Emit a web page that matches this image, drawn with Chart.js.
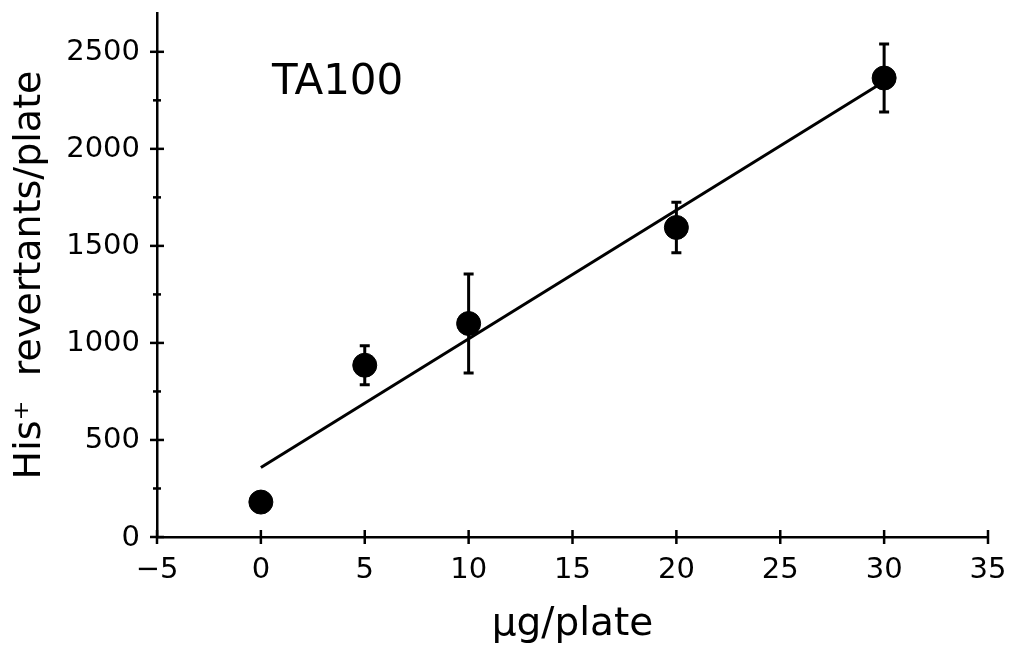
<!DOCTYPE html>
<html>
<head>
<meta charset="utf-8">
<script src="https://cdn.jsdelivr.net/npm/chart.js@4.4.0/dist/chart.umd.min.js"></script>
<style>
  html, body { margin: 0; padding: 0; background: #fff; }
</style>
</head>
<body>
<canvas id="myChart" width="1014" height="652"></canvas>
<script>
const doses = [0, 5, 10, 20, 30];
const revertants = [180, 885, 1100, 1595, 2365];
const errors = [0, 100, 255, 130, 175];
const fitX = [0, 30];
const fitY = [358, 2347];
const xTicks = [-5, 0, 5, 10, 15, 20, 25, 30, 35];
const yTicks = [0, 500, 1000, 1500, 2000, 2500];
const yMinorTicks = [250, 750, 1250, 1750, 2250];

const tickFont = '29px "DejaVu Sans"';

// error bars drawn under the dots
const errorBars = {
  id: 'errorBars',
  beforeDatasetsDraw(chart) {
    const {ctx, scales: {x, y}} = chart;
    ctx.save();
    ctx.strokeStyle = '#000';
    ctx.lineWidth = 3;
    doses.forEach((d, i) => {
      if (!errors[i]) return;
      const px = x.getPixelForValue(d);
      const top = y.getPixelForValue(revertants[i] + errors[i]);
      const bot = y.getPixelForValue(revertants[i] - errors[i]);
      ctx.beginPath();
      ctx.moveTo(px, top); ctx.lineTo(px, bot);
      ctx.moveTo(px - 5, top); ctx.lineTo(px + 5, top);
      ctx.moveTo(px - 5, bot); ctx.lineTo(px + 5, bot);
      ctx.stroke();
    });
    ctx.restore();
  }
};

// crossing tick marks, tick labels and the panel label
const axisTicks = {
  id: 'axisTicks',
  afterDraw(chart) {
    const {ctx, scales: {x, y}} = chart;
    const yAxisX = x.getPixelForValue(-5);
    const xAxisY = y.getPixelForValue(0);
    ctx.save();
    ctx.strokeStyle = '#000';
    ctx.fillStyle = '#000';
    ctx.lineWidth = 2.5;
    ctx.font = tickFont;

    ctx.textAlign = 'right';
    ctx.textBaseline = 'middle';
    yTicks.forEach(v => {
      const py = y.getPixelForValue(v);
      ctx.beginPath(); ctx.moveTo(yAxisX - 7, py); ctx.lineTo(yAxisX + 7, py); ctx.stroke();
      ctx.fillText(String(v), yAxisX - 17, py + 1);
    });
    yMinorTicks.forEach(v => {
      const py = y.getPixelForValue(v);
      ctx.beginPath(); ctx.moveTo(yAxisX - 4, py); ctx.lineTo(yAxisX + 4, py); ctx.stroke();
    });

    ctx.textAlign = 'center';
    ctx.textBaseline = 'alphabetic';
    xTicks.forEach(v => {
      const px = x.getPixelForValue(v);
      ctx.beginPath(); ctx.moveTo(px, xAxisY - 7); ctx.lineTo(px, xAxisY + 7); ctx.stroke();
      const txt = v < 0 ? '\u2212' + Math.abs(v) : String(v);
      ctx.fillText(txt, px, xAxisY + 41);
    });

    ctx.textAlign = 'left';
    ctx.font = '42px "DejaVu Sans"';
    ctx.fillText('TA100', 272, 94);
    ctx.restore();
  }
};

const ctx1 = document.getElementById('myChart').getContext('2d');
const myChart = new Chart(ctx1, {
  type: 'scatter',
  data: {
    datasets: [
      {
        label: 'fit',
        data: fitX.map((v, i) => ({x: v, y: fitY[i]})),
        showLine: true,
        borderColor: '#000',
        borderWidth: 3,
        pointRadius: 0
      },
      {
        label: 'TA100',
        data: doses.map((d, i) => ({x: d, y: revertants[i]})),
        backgroundColor: '#000',
        borderColor: '#000',
        pointRadius: 12,
        pointHoverRadius: 12
      }
    ]
  },
  options: {
    responsive: false,
    animation: false,
    layout: {
      padding: {left: 0, right: 26, top: 9, bottom: 0}
    },
    scales: {
      x: {
        type: 'linear',
        min: -5,
        max: 35,
        afterFit: s => { s.height = 115; },
        grid: {display: false},
        border: {display: true, color: '#000', width: 2.5},
        ticks: {display: false, stepSize: 5},
        title: {
          display: true,
          text: '\u03bcg/plate',
          color: '#000',
          font: {family: 'DejaVu Sans', size: 39},
          padding: {top: 0, bottom: 4}
        }
      },
      y: {
        type: 'linear',
        min: 0,
        max: 2700,
        afterFit: s => { s.width = 157; },
        grid: {display: false},
        border: {display: true, color: '#000', width: 2.5},
        ticks: {display: false, stepSize: 250},
        title: {
          display: true,
          text: 'His\u207a  revertants/plate',
          color: '#000',
          font: {family: 'DejaVu Sans', size: 38},
          padding: {top: 7, bottom: 0}
        }
      }
    },
    plugins: {
      legend: {display: false},
      tooltip: {enabled: false}
    }
  },
  plugins: [errorBars, axisTicks]
});
</script>
</body>
</html>
